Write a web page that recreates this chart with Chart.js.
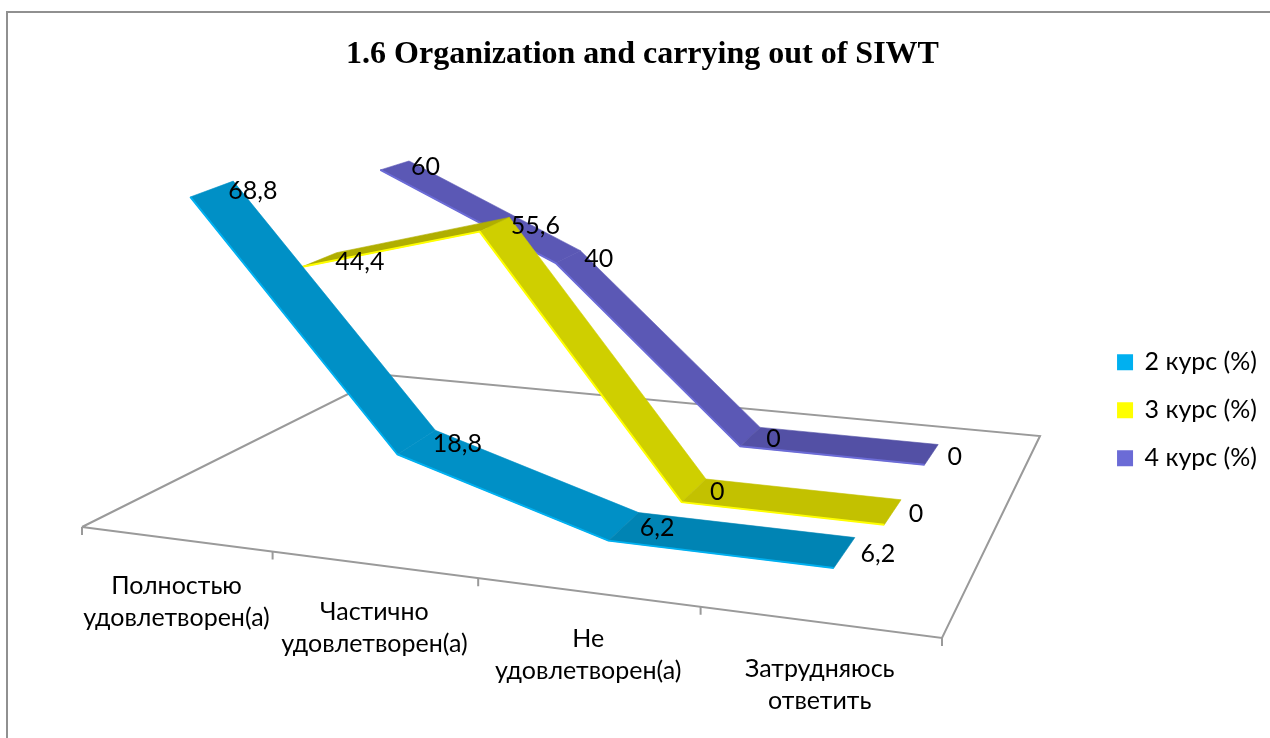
<!DOCTYPE html>
<html>
<head>
<meta charset="utf-8">
<script src="https://cdn.jsdelivr.net/npm/chart.js@4"></script>
<style>html,body{margin:0;padding:0;background:#fff}canvas{display:block}</style>
</head>
<body>
<canvas id="c" width="1270" height="738"></canvas>
<script>
const categories = [['Полностью','удовлетворен(а)'],['Частично','удовлетворен(а)'],['Не','удовлетворен(а)'],['Затрудняюсь','ответить']];
const seriesNames = ['2 курс (%)','3 курс (%)','4 курс (%)'];
const course2 = [68.8,18.8,6.2,6.2];
const course3 = [44.4,55.6,0,0];
const course4 = [60,40,0,0];
const edgeColors = ['#00B0F0','#FFFF00','#6B6BD6'];
const segmentShades = [
  ['#0090C6','#0090C6','#0084B4'],
  ['#B0AE00','#CFCF00','#C3C100'],
  ['#5B58B5','#5B58B5','#5350A5']
];

const FONT = 'Lato, "Open Sans", sans-serif';
const TEXT_SIZE = 25;
const GRID = '#9A9A9A';

// Perspective frame of the 3-D floor
const corners = {p00:[82,527], p10:[942,638], p11:[1040,436], p01:[386,375]};
const depthCentres = [0.152,0.485,0.818];
const halfDepth = 0.065;
const hom = (() => {
  const {p00,p10,p11,p01} = corners;
  const d1 = [p10[0]-p11[0], p10[1]-p11[1]], d2 = [p01[0]-p11[0], p01[1]-p11[1]];
  const s = [p00[0]-p10[0]+p11[0]-p01[0], p00[1]-p10[1]+p11[1]-p01[1]];
  const det = d1[0]*d2[1]-d1[1]*d2[0];
  const g = (s[0]*d2[1]-s[1]*d2[0])/det, h = (d1[0]*s[1]-d1[1]*s[0])/det;
  return {g,h,
    ax:p10[0]-p00[0]+g*p10[0], ay:p10[1]-p00[1]+g*p10[1],
    bx:p01[0]-p00[0]+h*p01[0], by:p01[1]-p00[1]+h*p01[1],
    x0:p00[0], y0:p00[1]};
})();
function project(a,b,z){
  const w = 1+hom.g*a+hom.h*b;
  return {
    x:(hom.x0+hom.ax*a+hom.bx*b)/w - z*(0.27+0.24*b)*(1-a),
    y:(hom.y0+hom.ay*a+hom.by*b)/w - z*(4.8-1.0*b)*(1+0.1*(a-0.125))
  };
}
function aOf(chart,i){ const s=chart.scales.x; return (s.getPixelForValue(i)-s.left)/s.width; }
function zOf(chart,v){ const s=chart.scales.y; return (s.bottom-s.getPixelForValue(v))/s.height*s.max; }

const perspective = {
  id:'perspective',
  afterDatasetsUpdate(chart){
    chart.data.datasets.forEach((ds,k)=>{
      const meta = chart.getDatasetMeta(k);
      meta.ribbon = meta.data.map((pt,i)=>{
        const a=aOf(chart,i), z=zOf(chart,ds.data[i]), b=depthCentres[k];
        const front=project(a,b-halfDepth,z), back=project(a,b+halfDepth,z), mid=project(a,b,z);
        pt.x=front.x; pt.y=front.y;
        return {front,back,mid};
      });
    });
  },
  beforeDraw(chart){
    const c=chart.ctx; c.save();
    c.strokeStyle='#909090'; c.lineWidth=2;
    c.beginPath(); c.moveTo(7,738); c.lineTo(7,12); c.lineTo(1270,12); c.stroke();
    c.restore();
  },
  beforeDatasetsDraw(chart){
    const c=chart.ctx, f=(a,b)=>project(a,b,0);
    c.save(); c.strokeStyle=GRID; c.lineWidth=2; c.beginPath();
    [[0,0],[1,0],[1,1],[0,1],[0,0]].forEach(([a,b],n)=>{const p=f(a,b); n?c.lineTo(p.x,p.y):c.moveTo(p.x,p.y);});
    c.stroke();
    c.beginPath();
    for(let i=0;i<=categories.length;i++){
      const p=f(i/categories.length,0); c.moveTo(p.x,p.y); c.lineTo(p.x,p.y+8);
    }
    c.stroke(); c.restore();
  },
  beforeDatasetDraw(chart,args){
    const c=chart.ctx, r=args.meta.ribbon, shades=segmentShades[args.index];
    c.save();
    for(let i=0;i<r.length-1;i++){
      c.fillStyle=shades[i]; c.strokeStyle=shades[i]; c.lineWidth=0.6;
      c.beginPath();
      c.moveTo(r[i].front.x,r[i].front.y); c.lineTo(r[i+1].front.x,r[i+1].front.y);
      c.lineTo(r[i+1].back.x,r[i+1].back.y); c.lineTo(r[i].back.x,r[i].back.y);
      c.closePath(); c.fill(); c.stroke();
    }
    c.restore();
  },
  afterDatasetsDraw(chart){
    const c=chart.ctx; c.save();
    c.fillStyle='#000'; c.font=TEXT_SIZE+'px '+FONT;
    chart.data.datasets.forEach((ds,k)=>{
      const r=chart.getDatasetMeta(k).ribbon;
      c.textAlign='left'; c.textBaseline='middle';
      ds.data.forEach((v,i)=>{
        c.fillText(String(v).replace('.',','), r[i].mid.x+16, r[i].mid.y+2);
      });
    });
    c.textAlign='center'; c.textBaseline='middle';
    categories.forEach((lines,i)=>{
      const p=project(aOf(chart,i),0,0);
      lines.forEach((t,n)=>c.fillText(t,p.x+1,p.y+47+n*32));
    });
    c.restore();
  }
};

new Chart(document.getElementById('c'),{
  type:'line',
  plugins:[perspective],
  data:{
    labels:categories,
    datasets:[course2,course3,course4].map((d,k)=>({
      label:seriesNames[k], data:d,
      borderColor:edgeColors[k], backgroundColor:edgeColors[k],
      borderWidth:2, pointRadius:0, tension:0, fill:false, clip:false
    }))
  },
  options:{
    responsive:false, animation:false, events:[],
    layout:{padding:{left:18,right:3,top:0,bottom:0}},
    scales:{
      x:{display:false,offset:true},
      y:{display:false,min:0,max:100}
    },
    plugins:{
      tooltip:{enabled:false},
      title:{display:true,text:'1.6 Organization and carrying out of SIWT',color:'#000',
        font:{family:'"Liberation Serif", serif',size:32,weight:'bold'},
        padding:{top:36,bottom:8}},
      legend:{position:'right',fullSize:false,
        labels:{color:'#000',font:{family:FONT,size:TEXT_SIZE},boxWidth:14,boxHeight:14,padding:23}}
    }
  }
});
</script>
</body>
</html>
